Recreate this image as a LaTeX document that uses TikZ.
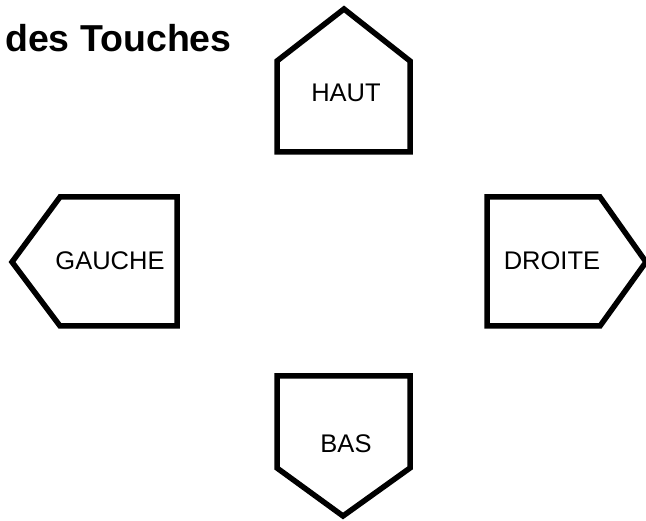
\documentclass[tikz,border=0pt]{standalone}
\usepackage{fontspec}
\setmainfont{Liberation Sans}
\begin{document}
\begin{tikzpicture}[x=1pt,y=-1pt,
  keyshape/.style={draw=black,line width=5.5pt,fill=white},
  keylabel/.style={font=\fontsize{25.5}{30}\selectfont,inner sep=0pt},
  titlelabel/.style={font=\fontsize{37.5}{42}\selectfont\bfseries,inner sep=0pt,anchor=base west}]
\useasboundingbox (0,0) rectangle (646,521);
% HAUT
\draw[keyshape] (277,61) -- (344,9) -- (410,61) -- (410,152) -- (277,152) -- cycle;
\node[keylabel] (haut) at (346,93) {HAUT};
% GAUCHE
\draw[keyshape] (12,262) -- (60,197) -- (177,197) -- (177,326) -- (60,326) -- cycle;
\node[keylabel] (gauche) at (110,261) {GAUCHE};
% DROITE
\draw[keyshape] (487,197) -- (600,197) -- (646,262) -- (600,326) -- (487,326) -- cycle;
\node[keylabel] (droite) at (552,261) {DROITE};
% BAS
\draw[keyshape] (277,376) -- (410,376) -- (410,468) -- (343,516) -- (277,468) -- cycle;
\node[keylabel] (bas) at (346,444) {BAS};
% title
\node[titlelabel] (title) at (5,52) {des Touches};
\end{tikzpicture}
\end{document}
